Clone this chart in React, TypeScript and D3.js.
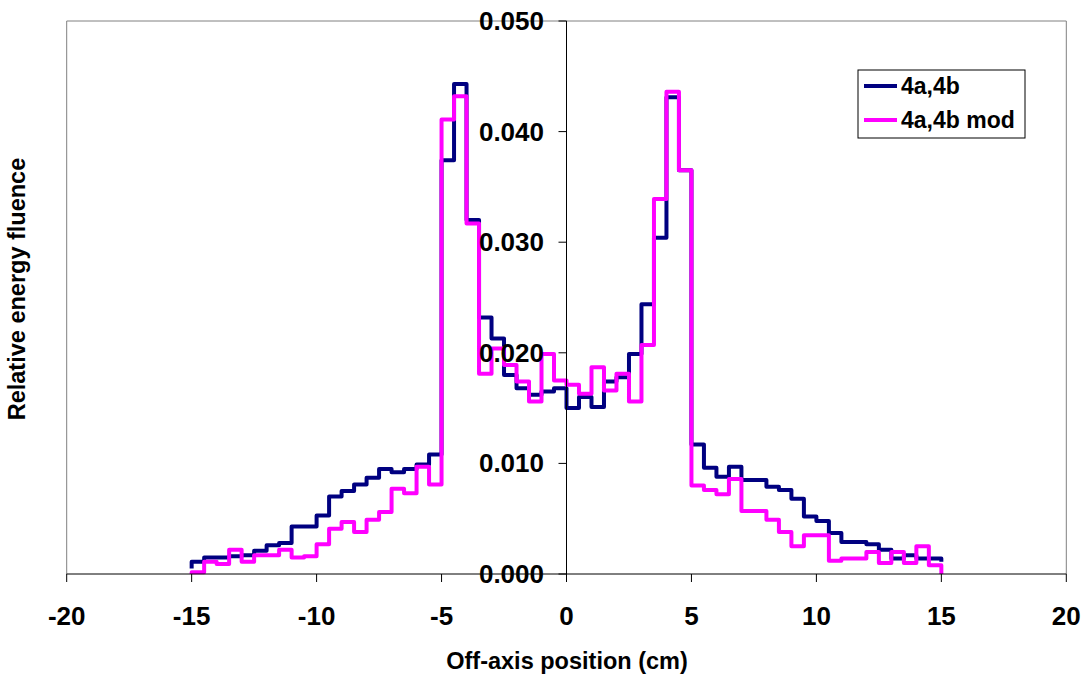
import React from 'react';
import * as d3 from 'd3';

// Bin edges (cm) of the step profiles
const binEdges = [
  -15, -14.5, -14, -13.5, -13, -12.5, -12, -11.5, -11, -10.5,
  -10, -9.5, -9, -8.5, -8, -7.5, -7, -6.5, -6, -5.5,
  -5, -4.5, -4, -3.5, -3, -2.5, -2, -1.5, -1, -0.5,
  0, 0.5, 1, 1.5, 2, 2.5, 3, 3.5, 4, 4.5,
  5, 5.5, 6, 6.5, 7, 7.5, 8, 8.5, 9, 9.5,
  10, 10.5, 11, 11.5, 12, 12.5, 13, 13.5, 14, 14.5, 15,
];

// Series "4a,4b" — value per bin
const series4ab = [
  0.0011, 0.0015, 0.0015, 0.0016, 0.0017, 0.0021, 0.0026, 0.0028, 0.0043, 0.0043,
  0.0053, 0.0070, 0.0075, 0.0081, 0.0087, 0.0095, 0.0092, 0.0095, 0.0099, 0.0108,
  0.0374, 0.0443, 0.0320, 0.0232, 0.0213, 0.0180, 0.0168, 0.0162, 0.0165, 0.0168,
  0.0150, 0.0160, 0.0151, 0.0174, 0.0178, 0.0199, 0.0244, 0.0304, 0.0431, 0.0365,
  0.0117, 0.0096, 0.0088, 0.0097, 0.0085, 0.0085, 0.0079, 0.0076, 0.0068, 0.0052,
  0.0048, 0.0037, 0.0029, 0.0029, 0.0027, 0.0022, 0.0014, 0.0017, 0.0014, 0.0014,
];

// Series "4a,4b mod" — value per bin
const series4abMod = [
  0.00015, 0.0011, 0.0009, 0.0022, 0.0011, 0.0017, 0.0017, 0.0022, 0.0015, 0.0016,
  0.0027, 0.0041, 0.0047, 0.0038, 0.0049, 0.0056, 0.0077, 0.0073, 0.0097, 0.0081,
  0.0411, 0.0432, 0.0317, 0.0181, 0.0204, 0.0189, 0.0174, 0.0156, 0.0199, 0.0175,
  0.0171, 0.0163, 0.0187, 0.0166, 0.0181, 0.0156, 0.0207, 0.0339, 0.0436, 0.0365,
  0.0080, 0.0076, 0.0072, 0.0086, 0.0057, 0.0057, 0.0049, 0.0038, 0.0025, 0.0035,
  0.0035, 0.0012, 0.0014, 0.0014, 0.0020, 0.0010, 0.0020, 0.0010, 0.0025, 0.0008,
];

// Values at the outer ends of each profile
const startValues = [0.0005, 0.0];
const endValues = [0.0011, 0.0];

const seriesNames = ['4a,4b', '4a,4b mod'];
const seriesColors = ['#000080', '#FF00FF'];

const xTicks = [-20, -15, -10, -5, 0, 5, 10, 15, 20];
const yTicks = [0, 0.01, 0.02, 0.03, 0.04, 0.05];

const W = 1085;
const H = 677;
const FONT = "'Liberation Sans', Arial, Helvetica, sans-serif";

export default function App() {
  const x = d3.scaleLinear().domain([-20, 20]).range([66.7, 1066.3]);
  const y = d3.scaleLinear().domain([0, 0.05]).range([574, 21]);

  const buildPoints = (vals: number[], sv: number, ev: number): [number, number][] => {
    const pts: [number, number][] = [[binEdges[0], sv]];
    vals.forEach((v, i) => {
      pts.push([binEdges[i], v]);
      pts.push([binEdges[i + 1], v]);
    });
    pts.push([binEdges[binEdges.length - 1], ev]);
    return pts;
  };

  const line = d3
    .line<[number, number]>()
    .x((d) => x(d[0]))
    .y((d) => y(d[1]));

  const allSeries = [series4ab, series4abMod];
  const x0 = x(0);
  const plotL = x(-20);
  const plotR = x(20);
  const plotT = y(0.05);
  const plotB = y(0);

  return (
    <svg
      width={W}
      height={H}
      style={{ position: 'absolute', left: 0, top: 0, background: '#fff' }}
      fontFamily={FONT}
    >
      <rect x={0} y={0} width={W} height={H} fill="#fff" />
      {/* plot area border */}
      <path
        d={`M${plotL},${plotB} V${plotT} H${plotR} V${plotB}`}
        fill="none"
        stroke="#808080"
        strokeWidth={1}
      />
      {/* series */}
      {allSeries.map((vals, k) => (
        <path
          key={k}
          d={line(buildPoints(vals, startValues[k], endValues[k])) || ''}
          fill="none"
          stroke={seriesColors[k]}
          strokeWidth={4}
          strokeLinejoin="round"
          strokeLinecap="butt"
        />
      ))}
      {/* x axis */}
      <line x1={plotL} x2={plotR} y1={plotB} y2={plotB} stroke="#000" strokeWidth={1} />
      {xTicks.map((t) => (
        <g key={t}>
          <line x1={x(t)} x2={x(t)} y1={plotB} y2={plotB + 8} stroke="#000" strokeWidth={1} />
          <text
            x={x(t)}
            y={625}
            textAnchor="middle"
            fontSize={26}
            fontWeight="bold"
            fill="#000"
          >
            {t}
          </text>
        </g>
      ))}
      {/* y axis at x = 0 */}
      <line x1={x0} x2={x0} y1={plotT} y2={plotB} stroke="#000" strokeWidth={1} />
      {yTicks.map((t) => (
        <g key={t}>
          <line x1={x0 - 8} x2={x0} y1={y(t)} y2={y(t)} stroke="#000" strokeWidth={1} />
          <text
            x={544}
            y={y(t) + 9}
            textAnchor="end"
            fontSize={26}
            fontWeight="bold"
            fill="#000"
          >
            {t.toFixed(3)}
          </text>
        </g>
      ))}
      {/* axis titles */}
      <text
        x={567}
        y={669}
        textAnchor="middle"
        fontSize={23.5}
        fontWeight="bold"
        fill="#000"
      >
        Off-axis position (cm)
      </text>
      <text
        transform={`translate(25,289) rotate(-90)`}
        textAnchor="middle"
        fontSize={23.5}
        fontWeight="bold"
        fill="#000"
      >
        Relative energy fluence
      </text>
      {/* legend */}
      <rect x={858} y={70} width={167} height={68} fill="#fff" stroke="#000" strokeWidth={1} />
      {seriesNames.map((name, k) => (
        <g key={name}>
          <line
            x1={864}
            x2={897}
            y1={86 + k * 34}
            y2={86 + k * 34}
            stroke={seriesColors[k]}
            strokeWidth={4}
          />
          <text x={901} y={94 + k * 34} fontSize={23} fontWeight="bold" fill="#000">
            {name}
          </text>
        </g>
      ))}
    </svg>
  );
}
